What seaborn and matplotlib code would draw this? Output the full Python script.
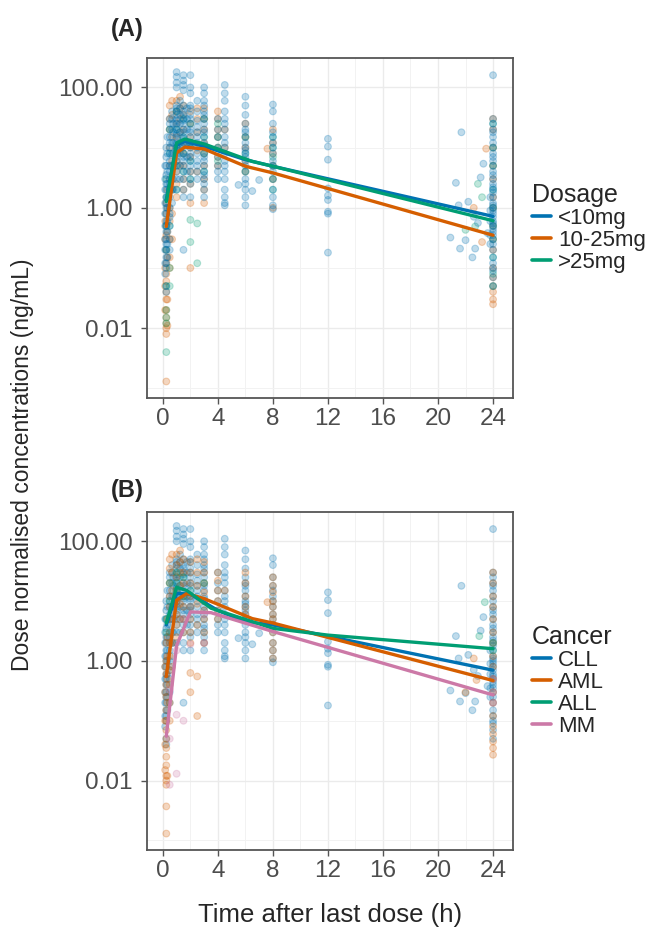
import pandas as pd
import numpy as np
import matplotlib
matplotlib.use("Agg")
import matplotlib.pyplot as plt
from matplotlib.ticker import FixedLocator, FixedFormatter, NullFormatter
import seaborn as sns

# Panel A: grouped by dosage
lt10_pts = {
    0.17: [5, 3, 2, 1.2, 0.8, 0.5, 0.3, 0.2, 0.12, 0.08],
    0.25: [10, 7, 5, 3.5, 2.5, 2, 1.5, 1.2, 1, 0.8, 0.6, 0.5, 0.4, 0.3, 0.25, 0.2, 0.15, 0.12, 0.1, 0.05, 0.04],
    0.33: [15, 8, 4, 2.5, 1.5, 1, 0.6, 0.4, 0.25, 0.15],
    0.5: [30, 25, 20, 15, 12, 10, 8, 6, 5, 4, 3, 2.5, 2, 1.5, 1, 0.8, 0.7, 0.5, 0.3, 0.2],
    0.67: [40, 30, 20, 12, 8, 5, 3, 2, 1.2],
    0.75: [25, 18, 12, 8, 5, 3, 2],
    1: [180, 150, 120, 100, 50, 45, 40, 35, 30, 28, 25, 22, 20, 17, 16, 14, 12, 11, 10, 9,
        8, 7, 6, 5, 4, 3, 2],
    1.25: [60, 45, 35, 25, 18, 12, 8, 5, 3],
    1.5: [160, 130, 110, 90, 50, 40, 35, 30, 28, 25, 20, 18, 15, 14, 12, 11, 10, 8, 7, 6,
          5, 4, 3, 2, 1.5, 0.2],
    1.75: [45, 30, 20, 12, 7, 4],
    2: [160, 100, 80, 50, 45, 35, 30, 25, 20, 18, 15, 12, 11, 10, 8, 7, 6, 5, 4, 3, 2.5, 1.5],
    2.5: [60, 40, 28, 22, 18, 15, 12, 10, 8, 6, 5, 4, 3],
    3: [100, 80, 60, 50, 40, 35, 30, 25, 20, 18, 15, 12, 11, 10, 8, 7, 6, 5, 4, 3.5, 3,
        2.5, 2, 1.5],
    4: [30, 20, 15, 10, 7, 5, 4, 3],
    4.5: [110, 80, 60, 40, 30, 25, 20, 15, 12, 10, 8, 6, 5, 4, 3, 2, 1.5, 1.2, 1.1],
    5.5: [2.4],
    6: [70, 50, 35, 25, 20, 18, 15, 12, 10, 9, 8, 7, 6, 5, 4, 3, 2.5, 2, 1.5, 1.1],
    6.5: [1.9],
    7: [2.9],
    8: [52, 40, 25, 18, 15, 12, 10, 8, 6, 5, 4, 3, 2, 1.5, 1.1, 0.95],
    12: [14, 10.4, 6.3, 2.1, 1.6, 1.35, 0.86, 0.8, 0.18],
    20.9: [0.32], 21.3: [2.6], 21.5: [1.1], 21.6: [0.21], 21.7: [18], 22.0: [0.29],
    22.2: [1.26], 22.5: [0.15], 22.6: [0.71], 22.7: [0.21], 22.9: [0.56], 23.1: [3.2],
    23.3: [5.4], 23.6: [0.38],
    23.8: [1.5, 0.9, 0.6, 0.35, 0.25],
    24: [160, 30, 25, 20, 18, 15, 12, 10, 8, 7, 6, 5, 4, 3.5, 3, 2.5, 2.2, 2, 1.8, 1.5,
         1.2, 1.1, 1, 0.9, 0.8, 0.7, 0.6, 0.55, 0.5, 0.45, 0.4, 0.35, 0.3, 0.25, 0.2,
         0.15, 0.12, 0.1, 0.09, 0.07, 0.05],
}
mid_pts = {
    0.17: [0.6, 0.3, 0.1, 0.05, 0.02],
    0.25: [1.2, 0.8, 0.5, 0.35, 0.2, 0.12, 0.08, 0.06, 0.04, 0.03, 0.02, 0.015, 0.012, 0.01, 0.008, 0.0013],
    0.33: [2, 1, 0.4, 0.15, 0.03, 0.011],
    0.5: [50, 30, 20, 10, 5, 3, 2, 1, 0.6, 0.3, 0.15, 0.1],
    0.67: [60, 35, 15, 6, 2, 0.8, 0.3],
    1: [60, 40, 25, 15, 10, 6, 4, 2.5, 1.5],
    1.25: [70, 45, 30, 18, 9, 5],
    1.5: [50, 35, 20, 12, 8, 5, 3, 2],
    2: [40, 25, 15, 10, 7, 4, 2.5, 1.2, 0.1],
    2.5: [45, 30, 18, 9, 4],
    3: [45, 30, 20, 12, 8, 5, 3, 2, 1.2],
    4: [40, 30, 20, 15, 10, 7, 5],
    4.5: [20, 10],
    6: [25, 15, 10, 6, 4],
    7.6: [9.6],
    8: [20, 12, 8, 5, 3, 1.0],
    22.6: [1.0], 23.2: [0.27], 23.5: [9.6],
    24: [30, 20, 10, 5, 3, 1.5, 1, 0.5, 0.3, 0.2, 0.1, 0.07, 0.05, 0.04, 0.03, 0.025],
}
gt25_pts = {
    0.25: [3, 1.5, 0.5, 0.2, 0.05, 0.02, 0.015, 0.012, 0.004],
    0.5: [20, 8, 2, 0.5, 0.1, 0.05],
    1: [40, 20, 10, 5, 2],
    1.5: [30, 15, 8, 4],
    2: [25, 12, 6, 3, 0.63, 0.27],
    2.5: [0.55, 0.12],
    3: [30, 15, 8, 4],
    4: [25, 15, 10, 6],
    6: [15, 8, 4],
    8: [15, 10, 7, 5, 3, 2],
    22.0: [0.43], 22.7: [0.49], 22.9: [2.5], 23.2: [1.5],
    24: [25, 10, 5, 2, 1, 0.5, 0.3, 0.15, 0.08, 0.05],
}

# Panel B: grouped by cancer type
cll_pts = lt10_pts
aml_pts = {
    0.17: [0.8, 0.3, 0.1, 0.04, 0.015],
    0.25: [2, 1, 0.6, 0.4, 0.25, 0.15, 0.1, 0.07, 0.05, 0.035, 0.025, 0.018, 0.012, 0.01, 0.0085, 0.0037, 0.0013],
    0.33: [5, 2.5, 1.2, 0.5, 0.2, 0.012],
    0.5: [50, 35, 20, 12, 8, 5, 3, 2, 1.2, 0.7, 0.4, 0.2, 0.1],
    0.67: [60, 30, 15, 6, 2, 0.8],
    1: [60, 40, 25, 15, 10, 6, 4, 2.5],
    1.25: [70, 45, 30, 18, 9, 5],
    1.5: [50, 30, 20, 12, 8, 5, 3],
    2: [45, 30, 20, 12, 8, 5, 3, 2, 0.63, 0.3],
    2.5: [50, 30, 18, 9, 4, 0.55, 0.12],
    3: [45, 30, 20, 14, 10, 7, 5, 3, 2],
    4: [30, 22, 15, 10, 7, 5],
    4.5: [15],
    6: [30, 20, 12, 8, 6],
    7.6: [9.6],
    8: [25, 18, 14, 10, 8, 6, 5, 4, 3, 2, 1.5, 1.1],
    22.0: [0.3], 22.6: [1.1], 22.8: [0.48],
    24: [30, 20, 12, 8, 5, 3, 2, 1.2, 0.8, 0.5, 0.3, 0.2, 0.12, 0.08, 0.06, 0.045, 0.035, 0.027],
}
all_pts = {
    0.25: [3, 5], 0.5: [10, 20], 1: [20, 30, 15], 1.5: [25, 12], 2: [15, 8], 3: [10, 20],
    23.0: [2.6], 23.4: [9.6], 24: [1.5, 2],
}
mm_pts = {
    0.5: [0.33, 0.0085, 0.05], 1: [0.126, 0.013, 1.5], 1.5: [0.1, 5], 2: [1.9, 8],
    3: [2, 6, 10], 24: [0.5, 0.3, 0.2],
}

# Median profiles (lines)
lt10_line_t = [0.25, 1, 1.6, 3, 6, 8, 24]
lt10_line_c = [1.35, 11, 12.7, 10.5, 6.3, 4.9, 0.72]
mid_line_t = [0.25, 1, 1.6, 3, 6, 8, 24]
mid_line_c = [0.49, 8.2, 10.2, 9.5, 4.9, 3.8, 0.35]
gt25_line_t = [0.25, 1, 1.6, 3, 6.5, 8, 24]
gt25_line_c = [1.27, 12, 13.9, 11.5, 5.9, 4.9, 0.61]

cll_line_t = [0.25, 1, 2, 4, 6, 8, 24]
cll_line_c = [4, 13.5, 13, 7, 4.5, 4, 0.7]
aml_line_t = [0.25, 1, 1.75, 3, 6.5, 8, 24]
aml_line_c = [0.55, 10.4, 13.4, 11, 5.1, 4.3, 0.47]
all_line_t = [0.25, 1, 1.75, 3.5, 8, 12, 24]
all_line_c = [4.3, 17, 15, 7.6, 3.5, 2.7, 1.6]
mm_line_t = [0.25, 1, 2, 3.5, 8, 24]
mm_line_c = [0.055, 1.8, 6.6, 6.4, 3.1, 0.27]

dose_levels = ["<10mg", "10-25mg", ">25mg"]
cancer_levels = ["CLL", "AML", "ALL", "MM"]
colors = ["#0072B2", "#D55E00", "#009E73", "#CC79A7"]


def points_frame(groups, names):
    rows = []
    for cols, name in zip(groups, names):
        for t, cs in cols.items():
            for c in cs:
                rows.append((t, c, name))
    return pd.DataFrame(rows, columns=["time", "conc", "group"])


def lines_frame(ts, cs, names):
    rows = []
    for t_list, c_list, name in zip(ts, cs, names):
        rows += [(t, c, name) for t, c in zip(t_list, c_list)]
    return pd.DataFrame(rows, columns=["time", "conc", "group"])


# drawing order of the points (first = bottom)
pts_a = points_frame([mid_pts, gt25_pts, lt10_pts], ["10-25mg", ">25mg", "<10mg"])
lines_a = lines_frame([lt10_line_t, mid_line_t, gt25_line_t],
                      [lt10_line_c, mid_line_c, gt25_line_c], dose_levels)
pts_b = points_frame([cll_pts, aml_pts, all_pts, mm_pts], cancer_levels)
lines_b = lines_frame([cll_line_t, aml_line_t, all_line_t, mm_line_t],
                      [cll_line_c, aml_line_c, all_line_c, mm_line_c], cancer_levels)

sns.set_style("white")
plt.rcParams["font.family"] = ["Liberation Sans", "DejaVu Sans"]

fig = plt.figure(figsize=(6.54, 9.32), dpi=100)
ax_a = fig.add_axes([0.2248, 0.573, 0.5596, 0.3648])
ax_b = fig.add_axes([0.2248, 0.088, 0.5596, 0.3627])

panels = [
    (ax_a, pts_a, lines_a, dose_levels, "Dosage", "(A)", 0.968),
    (ax_b, pts_b, lines_b, cancer_levels, "Cancer", "(B)", 0.474),
]

for ax, pts, lines, levels, title, tag, tag_y in panels:
    pal = dict(zip(levels, colors[:len(levels)]))
    sns.scatterplot(data=pts, x="time", y="conc", hue="group", hue_order=levels,
                    palette=pal, alpha=0.25, s=24, linewidth=0.8,
                    legend=False, ax=ax, zorder=2)
    # edge ring in the same colour as the fill
    for coll in ax.collections:
        coll.set_edgecolor(coll.get_facecolor())
    sns.lineplot(data=lines, x="time", y="conc", hue="group", hue_order=levels,
                 palette=pal, linewidth=2.4, estimator=None, sort=True, ax=ax, zorder=3)
    ax.set_yscale("log")
    ax.set_xlim(-1.15, 25.45)
    ax.set_ylim(10 ** -3.16, 10 ** 2.49)

    ax.xaxis.set_major_locator(FixedLocator([0, 4, 8, 12, 16, 20, 24]))
    ax.xaxis.set_minor_locator(FixedLocator([2, 6, 10, 14, 18, 22]))
    ax.yaxis.set_major_locator(FixedLocator([0.01, 1, 100]))
    ax.yaxis.set_major_formatter(FixedFormatter(["0.01", "1.00", "100.00"]))
    ax.yaxis.set_minor_locator(FixedLocator([0.001, 0.1, 10]))
    ax.yaxis.set_minor_formatter(NullFormatter())

    ax.grid(True, which="major", color="#EBEBEB", linewidth=1.0, zorder=0)
    ax.grid(True, which="minor", color="#F2F2F2", linewidth=0.7, zorder=0)
    ax.set_axisbelow(True)
    for sp in ax.spines.values():
        sp.set_color("#555555")
        sp.set_linewidth(1.3)
    ax.tick_params(which="major", length=4.5, width=1, color="#555555",
                   labelsize=17.5, labelcolor="#4D4D4D", pad=3,
                   bottom=True, left=True)
    ax.tick_params(axis="y", which="major", pad=6)
    ax.tick_params(which="minor", length=0)
    ax.set_xlabel("")
    ax.set_ylabel("")

    handles, labels = ax.get_legend_handles_labels()
    leg = ax.legend(handles, labels, title=title, loc="center left",
                    bbox_to_anchor=(1.01, 0.5), frameon=False, fontsize=16,
                    title_fontsize=18, handlelength=0.85, handletextpad=0.3,
                    labelspacing=0.05, alignment="left", borderaxespad=0.3)
    for line in leg.get_lines():
        line.set_linewidth(2.6)

    fig.text(0.194, tag_y, tag, fontsize=17, fontweight="bold",
             ha="center", va="center")

fig.text(0.034, 0.501, "Dose normalised concentrations (ng/mL)", rotation=90,
         fontsize=16.5, ha="center", va="center")
fig.text(0.505, 0.018, "Time after last dose (h)", fontsize=18.5,
         ha="center", va="center")

fig.savefig("out.png", dpi=100)
